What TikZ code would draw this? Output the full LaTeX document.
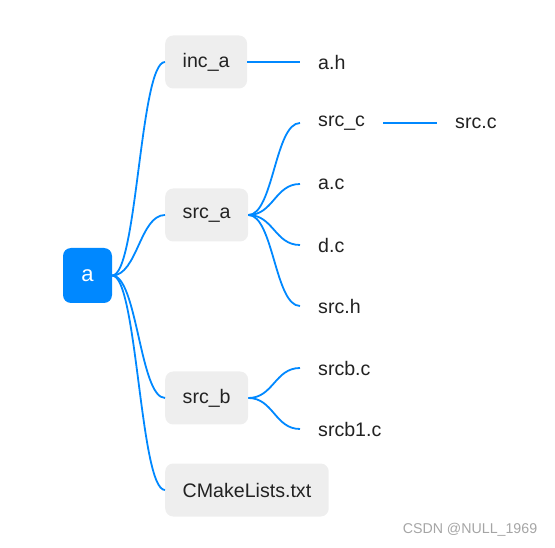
\documentclass[tikz,border=0pt]{standalone}
\usepackage{fontspec}
\setmainfont{Liberation Sans}
\usepackage{tikz}
\usetikzlibrary{positioning}
\definecolor{mapblue}{RGB}{0,136,255}
\definecolor{boxgray}{RGB}{238,238,238}
\definecolor{txt}{RGB}{34,34,34}
\definecolor{markgray}{RGB}{165,165,165}
\tikzset{
  topic/.style={fill=boxgray, rounded corners=8pt, anchor=west, text=txt,
    inner xsep=17.5pt, minimum height=53pt, font=\fontsize{19.6}{22}\selectfont},
  leaf/.style={anchor=west, inner xsep=18pt, inner ysep=0pt, text=txt,
    font=\fontsize{19.6}{22}\selectfont},
  branch/.style={draw=mapblue, line width=1.8pt},
}
\newcommand{\curvelink}[2]{\draw[branch] (#1) .. controls +(25,0) and +(-25,0) .. (#2);}

\begin{document}
\begin{tikzpicture}[x=1pt, y=-1pt]
  \useasboundingbox (0,0) rectangle (555,548);

  % root
  \node[fill=mapblue, rounded corners=8pt, minimum width=49pt, minimum height=55pt,
    text=white, font=\fontsize{22}{24}\selectfont] (root) at (87.5,275.5) {a};

  % first level
  \node[topic] (inca) at (165,62) {inc\_a};
  \node[topic] (srca) at (165,215) {src\_a};
  \node[topic] (srcb) at (165,398) {src\_b};
  \node[topic] (cmake) at (165,490) {CMakeLists.txt};

  % leaves
  \node[leaf] (ah) at (300,62) {a.h};
  \node[leaf] (srcc) at (300,123) {src\_c};
  \node[leaf] (srccfile) at (437,123) {src.c};
  \node[leaf] (ac) at (300,184) {a.c};
  \node[leaf] (dc) at (300,245) {d.c};
  \node[leaf] (srch) at (300,306) {src.h};
  \node[leaf] (srcbc) at (300,368) {srcb.c};
  \node[leaf] (srcbone) at (300,429) {srcb1.c};

  % links
  \curvelink{root.east}{inca.west}
  \curvelink{root.east}{srca.west}
  \curvelink{root.east}{srcb.west}
  \curvelink{root.east}{cmake.west}
  \draw[branch] (inca.east) -- (ah.west);
  \curvelink{srca.east}{srcc.west}
  \curvelink{srca.east}{ac.west}
  \curvelink{srca.east}{dc.west}
  \curvelink{srca.east}{srch.west}
  \draw[branch] (srcc.east) -- (srccfile.west);
  \curvelink{srcb.east}{srcbc.west}
  \curvelink{srcb.east}{srcbone.west}

  % watermark
  \node[text=markgray, font=\fontsize{14.2}{16}\selectfont] (mark) at (470,530) {CSDN @NULL\_1969};
\end{tikzpicture}
\end{document}
